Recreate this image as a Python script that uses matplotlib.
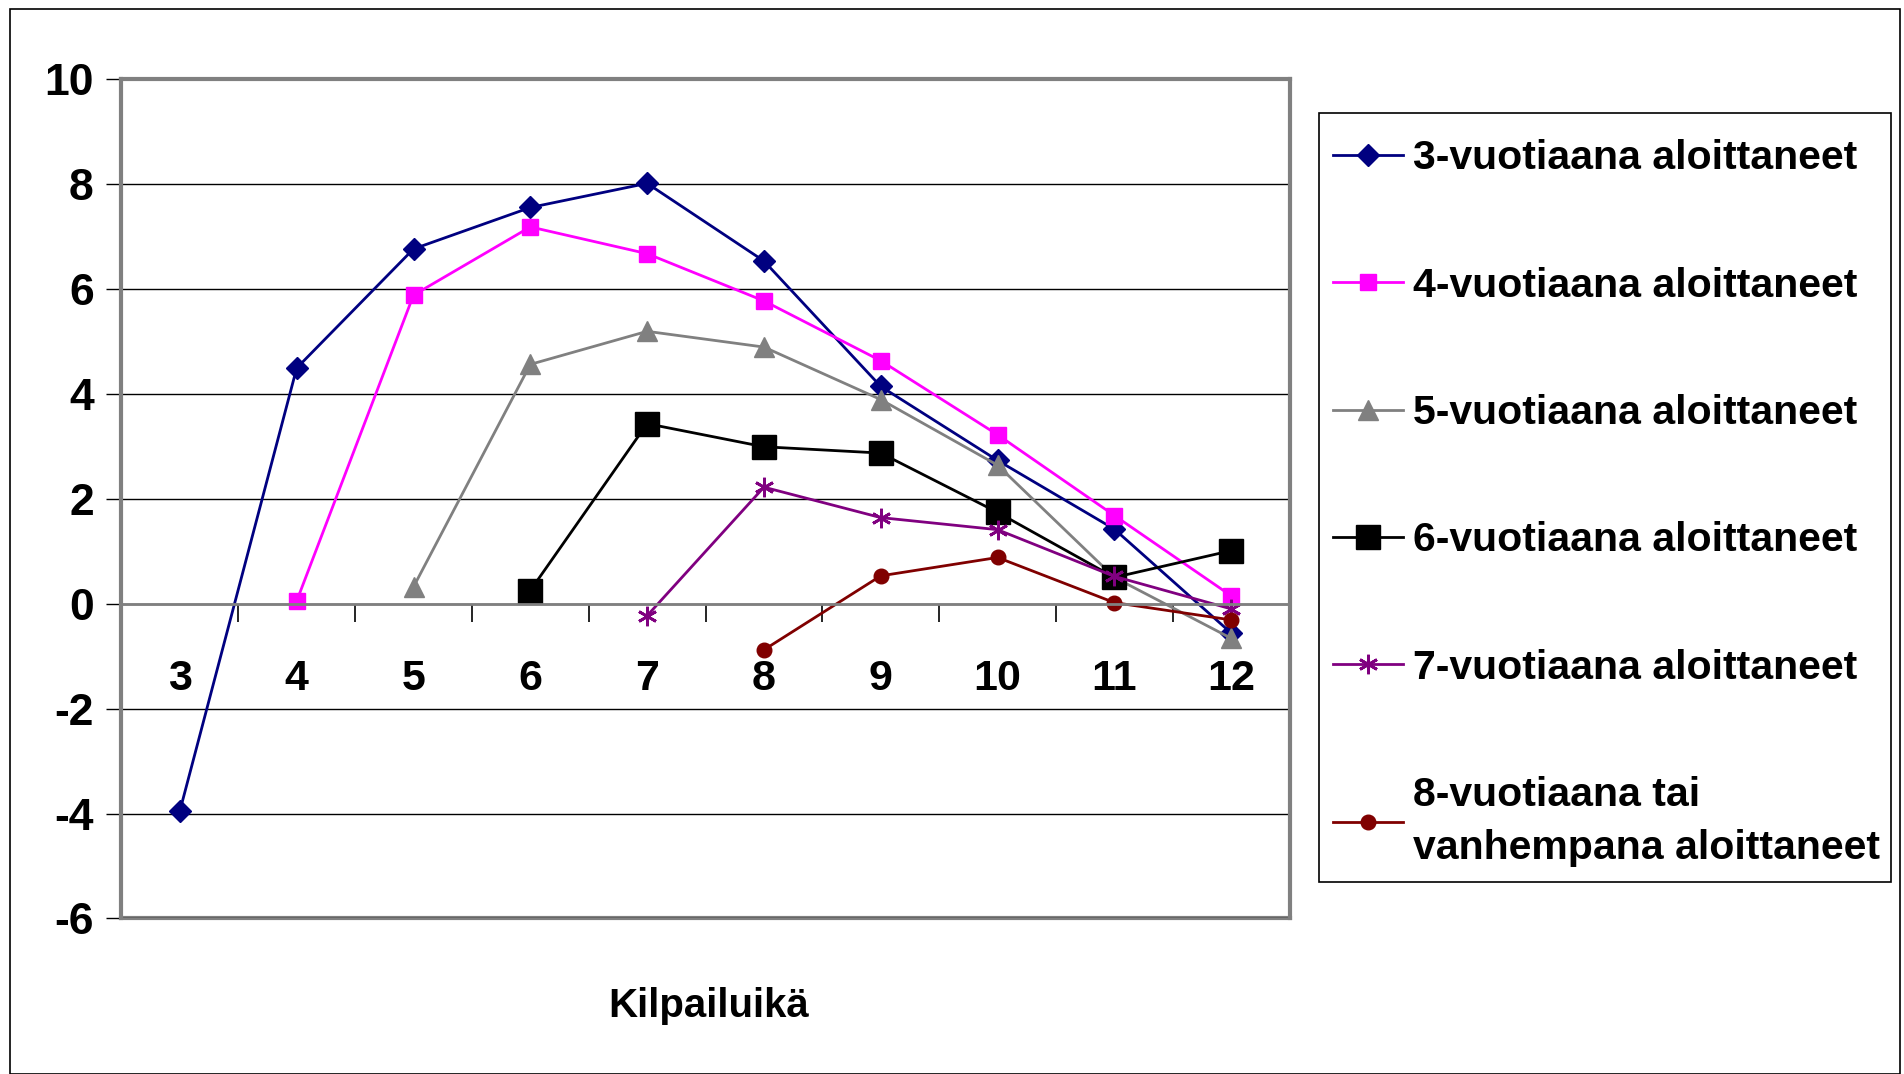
import matplotlib
matplotlib.use("Agg")
import matplotlib.pyplot as plt
from matplotlib.patches import Rectangle

plt.rcParams['font.family'] = ['Liberation Sans', 'DejaVu Sans']
plt.rcParams['font.weight'] = 'bold'
plt.rcParams['axes.unicode_minus'] = False

# ---- data ----
ages = [3, 4, 5, 6, 7, 8, 9, 10, 11, 12]
x_labels = ["3", "4", "5", "6", "7", "8", "9", "10", "11", "12"]
y_ticks = [-6, -4, -2, 0, 2, 4, 6, 8, 10]
y_labels = ["-6", "-4", "-2", "0", "2", "4", "6", "8", "10"]

s3_x = [3, 4, 5, 6, 7, 8, 9, 10, 11, 12]
s3_y = [-3.95, 4.49, 6.76, 7.55, 8.01, 6.53, 4.14, 2.73, 1.42, -0.56]
s4_x = [4, 5, 6, 7, 8, 9, 10, 11, 12]
s4_y = [0.05, 5.88, 7.18, 6.67, 5.77, 4.63, 3.22, 1.68, 0.15]
s5_x = [5, 6, 7, 8, 9, 10, 11, 12]
s5_y = [0.32, 4.56, 5.19, 4.89, 3.89, 2.64, 0.50, -0.66]
s6_x = [6, 7, 8, 9, 10, 11, 12]
s6_y = [0.25, 3.43, 2.99, 2.87, 1.74, 0.50, 1.01]
s7_x = [7, 8, 9, 10, 11, 12]
s7_y = [-0.23, 2.22, 1.64, 1.41, 0.52, -0.10]
s8_x = [8, 9, 10, 11, 12]
s8_y = [-0.88, 0.53, 0.88, 0.02, -0.31]

labels = ["3-vuotiaana aloittaneet", "4-vuotiaana aloittaneet",
          "5-vuotiaana aloittaneet", "6-vuotiaana aloittaneet",
          "7-vuotiaana aloittaneet", "8-vuotiaana tai\nvanhempana aloittaneet"]

fig = plt.figure(figsize=(19.04, 10.74), dpi=100)
ax = fig.add_axes([0.0638, 0.1448, 0.6135, 0.7817])

ax.plot(s3_x, s3_y, color='#000080', marker='D', ms=11, lw=2, label=labels[0])
ax.plot(s4_x, s4_y, color='#FF00FF', marker='s', ms=11, lw=2, label=labels[1])
ax.plot(s5_x, s5_y, color='#808080', marker='^', ms=14, lw=2, label=labels[2])
ax.plot(s6_x, s6_y, color='black', marker='s', ms=17.5, lw=2, label=labels[3])
ax.plot(s7_x, s7_y, color='#800080', marker=(6, 2, 0), ms=14, mew=2, lw=2, label=labels[4])
ax.plot(s8_x, s8_y, color='#800000', marker='o', ms=10.5, lw=2, label=labels[5])

ax.set_xlim(2.5, 12.5)
ax.set_ylim(-6, 10)

ax.set_yticks(y_ticks)
ax.set_yticklabels(y_labels)
ax.yaxis.grid(True, color='black', lw=1)
ax.set_axisbelow(True)
ax.tick_params(axis='y', length=11, width=1, color='black', pad=9, labelsize=32)

ax.set_xticks(ages)
ax.set_xticklabels(x_labels)
ax.set_xticks([a + 0.5 for a in ages], minor=True)
ax.tick_params(axis='x', which='major', length=0, pad=40, labelsize=31)
ax.tick_params(axis='x', which='minor', length=13, width=1.2, color='black', direction='out')

for s in ['left', 'top', 'right']:
    ax.spines[s].set_color('#808080')
    ax.spines[s].set_linewidth(3)
ax.spines['bottom'].set_position(('data', 0))
ax.spines['bottom'].set_color('#808080')
ax.spines['bottom'].set_linewidth(2)
ax.axhline(-6, color='#808080', lw=3, clip_on=False, zorder=0.5)

fig.text(0.372, 0.063, "Kilpailuikä", ha='center', va='center',
         fontsize=29, fontweight='bold')

# legend frame (drawn beneath the legend contents)
fig.patches.append(Rectangle((0.6926, 0.1787), 0.3004, 0.7161, transform=fig.transFigure,
                             fill=False, edgecolor='black', lw=1.2, zorder=-1))
leg = ax.legend(loc='upper left', bbox_to_anchor=(0.6926, 0.8835),
                bbox_transform=fig.transFigure, frameon=False,
                borderpad=0.35, labelspacing=2.18, handlelength=1.7,
                handletextpad=0.25, borderaxespad=0,
                prop={'size': 29.5, 'weight': 'bold'})
leg.get_texts()[5].set_linespacing(1.5)

fig.patches.append(Rectangle((0.005, 0.0), 0.993, 0.992, transform=fig.transFigure,
                             fill=False, edgecolor='black', lw=1.2, zorder=-1))

fig.savefig("out.png", dpi=100)
